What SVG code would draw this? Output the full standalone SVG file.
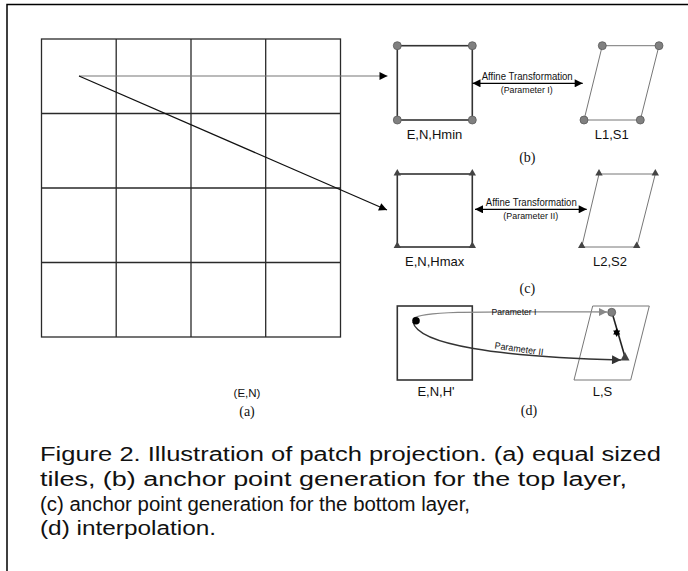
<svg xmlns="http://www.w3.org/2000/svg" width="688" height="571" viewBox="0 0 688 571">
<defs>
<style>
.frame{stroke:#000;stroke-width:1.5;fill:none}
.grid{stroke:#2a2a2a;stroke-width:1.3;fill:none}
.sq{stroke:#333;stroke-width:1.6;fill:none}
.para{stroke:#777;stroke-width:1;fill:none}
.cc{fill:#808080;stroke:#5a5a5a;stroke-width:0.8}
.tri{fill:#444}
.lbl{font-family:"Liberation Sans",Arial,sans-serif;font-size:13px;fill:#111;text-anchor:middle}
.sm{font-family:"Liberation Sans",Arial,sans-serif;fill:#111;text-anchor:middle}
.ser{font-family:"Liberation Serif","Times New Roman",serif;font-size:14px;fill:#111;text-anchor:middle}
.cap{font-family:"Liberation Sans",Arial,sans-serif;font-size:20px;fill:#111}
</style>
<marker id="ah" viewBox="0 0 10 10" refX="10" refY="5" markerWidth="9" markerHeight="8" markerUnits="userSpaceOnUse" orient="auto-start-reverse">
<path d="M0,0 L10,5 L0,10 Z" fill="#000"/>
</marker>
<marker id="ahg" viewBox="0 0 10 10" refX="10" refY="5" markerWidth="9" markerHeight="8" markerUnits="userSpaceOnUse" orient="auto">
<path d="M0,0 L10,5 L0,10 Z" fill="#888"/>
</marker>
<marker id="ahd" viewBox="0 0 10 10" refX="10" refY="5" markerWidth="10" markerHeight="9" markerUnits="userSpaceOnUse" orient="auto">
<path d="M0,0 L10,5 L0,10 Z" fill="#333"/>
</marker>
</defs>
<rect width="688" height="571" fill="#fff"/>
<path class="frame" d="M7,571 V4.5 H688"/>

<g id="tiles">
<rect class="grid" x="41.5" y="39" width="299" height="298"/>
<path class="grid" d="M116.2,39 V337 M191,39 V337 M265.7,39 V337 M41.5,113.5 H340.5 M41.5,188 H340.5 M41.5,262.5 H340.5"/>
<text class="sm" x="247" y="397" font-size="11.5">(E,N)</text>
<text class="ser" x="247" y="416">(a)</text>
</g>

<g id="panel-b">
<rect class="sq" x="397.3" y="45.7" width="75" height="74.3"/>
<circle class="cc" cx="397.3" cy="45.7" r="4"/>
<circle class="cc" cx="472.3" cy="45.7" r="4"/>
<circle class="cc" cx="397.3" cy="120" r="4"/>
<circle class="cc" cx="472.3" cy="120" r="4"/>
<polygon class="para" points="602.3,45.7 659,45.7 640.3,120 584,120"/>
<circle class="cc" cx="602.3" cy="45.7" r="4"/>
<circle class="cc" cx="659" cy="45.7" r="4"/>
<circle class="cc" cx="584" cy="120" r="4"/>
<circle class="cc" cx="640.3" cy="120" r="4"/>
<text class="lbl" x="434.5" y="139">E,N,Hmin</text>
<text class="lbl" x="611.7" y="139">L1,S1</text>
<text class="sm" x="527.2" y="80" font-size="10.5" textLength="91" lengthAdjust="spacingAndGlyphs">Affine Transformation</text>
<text class="sm" x="526.7" y="93" font-size="9" textLength="52" lengthAdjust="spacingAndGlyphs">(Parameter I)</text>
<text class="ser" x="527.3" y="161.5">(b)</text>
</g>

<g id="panel-c">
<rect class="sq" x="397.3" y="174" width="75" height="73"/>
<polygon class="tri" points="397.3,169 401,175.5 393.6,175.5"/>
<polygon class="tri" points="472.3,169 476,175.5 468.6,175.5"/>
<polygon class="tri" points="397.3,241.5 401,248 393.6,248"/>
<polygon class="tri" points="472.3,241.5 476,248 468.6,248"/>
<polygon class="para" points="599,174 655.3,174 636.7,247 581.7,247"/>
<polygon class="tri" points="599,169 602.7,175.5 595.3,175.5"/>
<polygon class="tri" points="655.3,169 659,175.5 651.6,175.5"/>
<polygon class="tri" points="581.7,241.5 585.4,248 578,248"/>
<polygon class="tri" points="636.7,241.5 640.4,248 633,248"/>
<text class="lbl" x="434.7" y="265.5">E,N,Hmax</text>
<text class="lbl" x="610" y="265.5">L2,S2</text>
<text class="sm" x="531.3" y="206" font-size="10.5" textLength="91" lengthAdjust="spacingAndGlyphs">Affine Transformation</text>
<text class="sm" x="530.8" y="218.5" font-size="9" textLength="55" lengthAdjust="spacingAndGlyphs">(Parameter II)</text>
<text class="ser" x="527.3" y="292.5">(c)</text>
</g>

<g id="panel-d">
<rect class="sq" x="397.3" y="306" width="75" height="74" stroke-width="1.2"/>
<polygon class="para" points="592.7,306 649.3,306 630.7,380 574,380" stroke="#555"/>
<text class="lbl" x="436" y="395.5" font-size="11.5">E,N,H'</text>
<text class="lbl" x="602.5" y="395.5" font-size="11.5">L,S</text>
<text class="ser" x="529" y="414.5">(d)</text>
</g>

<g id="connectors">
<line x1="79" y1="76" x2="387.5" y2="76" stroke="#777" stroke-width="1.1" marker-end="url(#ah)"/>
<line x1="79" y1="76" x2="387" y2="210" stroke="#111" stroke-width="1.3" marker-end="url(#ah)"/>
<line x1="472.5" y1="83.3" x2="582.7" y2="83.3" stroke="#000" stroke-width="1.3" marker-start="url(#ah)" marker-end="url(#ah)"/>
<line x1="475" y1="209.3" x2="586.7" y2="209.3" stroke="#000" stroke-width="1.3" marker-start="url(#ah)" marker-end="url(#ah)"/>
<path d="M413,319 C420,311 470,311.5 607,312" fill="none" stroke="#888" stroke-width="1.3" marker-end="url(#ahg)"/>
<path d="M413,322 C418,345 500,357 621,360" fill="none" stroke="#333" stroke-width="1.3" marker-end="url(#ahd)"/>
<line x1="612" y1="312.5" x2="625" y2="357" stroke="#222" stroke-width="1.6"/>
<circle cx="416" cy="320.7" r="3.8" fill="#000"/>
<circle class="cc" cx="611.7" cy="312.3" r="4"/>
<polygon class="tri" points="625,352 629.5,360.5 620.5,360.5" fill="#333"/>
<polygon points="616.7,328 620.2,334.5 613.2,334.5" fill="#000"/>
<polygon points="616.7,337 620.2,330.5 613.2,330.5" fill="#000"/>
<text class="sm" x="514" y="315" font-size="9" textLength="45" lengthAdjust="spacingAndGlyphs">Parameter I</text>
<text class="sm" x="519" y="352" font-size="9.5" textLength="49" lengthAdjust="spacingAndGlyphs" transform="rotate(8 519 349)">Parameter II</text>
</g>

<g id="caption">
<text class="cap" x="40" y="461" textLength="621" lengthAdjust="spacingAndGlyphs">Figure 2. Illustration of patch projection. (a) equal sized</text>
<text class="cap" x="40" y="486" textLength="587" lengthAdjust="spacingAndGlyphs">tiles, (b) anchor point generation for the top layer,</text>
<text class="cap" x="40" y="510.5" textLength="430" lengthAdjust="spacingAndGlyphs">(c) anchor point generation for the bottom layer,</text>
<text class="cap" x="40" y="535" textLength="176" lengthAdjust="spacingAndGlyphs">(d) interpolation.</text>
</g>
</svg>
